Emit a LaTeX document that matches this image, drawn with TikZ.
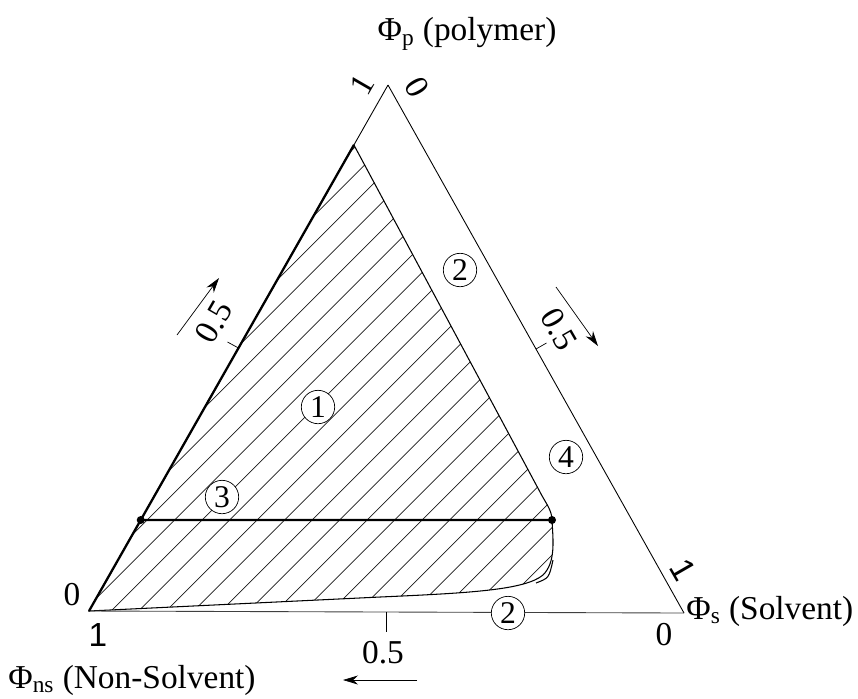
\documentclass[tikz,border=0pt]{standalone}
\usepackage{fontspec}
\setmainfont{Liberation Serif}
\newfontfamily\arialfont{Liberation Sans}
\usetikzlibrary{arrows.meta,calc}
\tikzset{
  side/.style={draw=black, line width=0.5pt},
  binedge/.style={draw=black, line width=0.6pt},
  thickedge/.style={draw=black, line width=1.3pt},
  tieline/.style={draw=black, line width=1.4pt},
  hatchline/.style={draw=black!90, line width=0.4pt},
  axislabel/.style={font=\fontsize{19}{22}\selectfont, inner sep=0pt},
  scalelabel/.style={font=\fontsize{19}{22}\selectfont, inner sep=0pt},
  region/.style={circle, draw=black, line width=0.4pt, fill=white, minimum size=19pt,
                 inner sep=0pt, font=\fontsize{18}{20}\selectfont},
  dirarrow/.style={-{Stealth[length=3mm,width=1.8mm]}, line width=0.4pt},
  tickmark/.style={draw=black, line width=0.4pt}
}

\begin{document}
\begin{tikzpicture}[x=0.02cm,y=-0.02cm]
  \useasboundingbox (0,0) rectangle (858,698);
  % triangle corners
  \coordinate (P) at (388,85);
  \coordinate (NS) at (89,611);
  \coordinate (S) at (684,613);
  \coordinate (H) at ($(NS)!0.886!(P)$);
  \coordinate (tl) at ($(NS)!0.173!(P)$);
  \coordinate (tr) at (552,520);
  \def\binodal{(NS) -- (H) -- (540,492) .. controls (545,502) and (552,510) .. (tr)
    .. controls (553,540) and (556,562) .. (543,575)
    .. controls (525,590) and (470,593) .. (380,597) -- cycle}

  % hatching
  \begin{scope}
    \clip \binodal;
    \foreach \k in {0,...,24} {
      \pgfmathsetmacro\c{502+27.5*\k}
      \draw[hatchline] (\c-100,100) -- (\c-700,700);
    }
  \end{scope}
  \draw[binedge] \binodal;
  \draw[binedge] (536,583) .. controls (549,578) .. (553,560);

  % sides
  \draw[side] (P) -- (S);
  \draw[side, draw=black!75] (S) -- (NS);
  \draw[side] (H) -- (P);
  \draw[thickedge] (NS) -- (H);

  % tie line
  \draw[tieline] (tl) -- (tr);
  \fill (tl) circle (4);
  \fill (tr) circle (4);

  % ticks at 0.5
  \coordinate (lmid) at ($(NS)!0.5!(P)$);
  \coordinate (rmid) at ($(P)!0.5!(S)$);
  \coordinate (bmid) at ($(NS)!0.5!(S)$);
  \draw[tickmark] (lmid) -- ++(-11,-6);
  \draw[tickmark] (rmid) -- ++(10.5,-6);
  \draw[tickmark] (bmid) -- ++(0,20);

  % direction arrows
  \coordinate (la1) at (177,335);
  \coordinate (la2) at (219,278);
  \coordinate (ra1) at (556,287);
  \coordinate (ra2) at (598,346);
  \coordinate (ba1) at (417,680);
  \coordinate (ba2) at (343,680);
  \draw[dirarrow] (la1) -- (la2);
  \draw[dirarrow] (ra1) -- (ra2);
  \draw[dirarrow] (ba1) -- (ba2);

  % scale values
  \node[scalelabel, rotate=60] (p1) at (362,85) {1};
  \node[scalelabel, rotate=-60] (p0) at (417,87) {0};
  \node[scalelabel] (ns0) at (72,595) {0};
  \node[scalelabel, font=\fontsize{19}{22}\selectfont\arialfont] (ns1) at (98,635) {1};
  \node[scalelabel] (s0) at (664,635) {0};
  \node[scalelabel, rotate=-60, font=\fontsize{19}{22}\selectfont\arialfont] (s1) at (683,570) {1};
  \node[scalelabel, rotate=60] (lhalf) at (214,322) {0.5};
  \node[scalelabel, rotate=-60] (rhalf) at (559,329) {0.5};
  \node[scalelabel] (bhalf) at (383,653) {0.5};

  % axis names
  \node[axislabel] (polylab) at (467,34) {Φ\textsubscript{p} (polymer)};
  \node[axislabel, anchor=west] (nslab) at (8,680) {Φ\textsubscript{ns} (Non-Solvent)};
  \node[axislabel, anchor=west] (slab) at (686,611) {Φ\textsubscript{s} (Solvent)};

  % regions
  \node[region] (r1) at (318,407) {1};
  \node[region] (r2a) at (460,270) {2};
  \node[region] (r3) at (222,497) {3};
  \node[region] (r4) at (566,457) {4};
  \node[region] (r2b) at (508,613) {2};
\end{tikzpicture}
\end{document}
